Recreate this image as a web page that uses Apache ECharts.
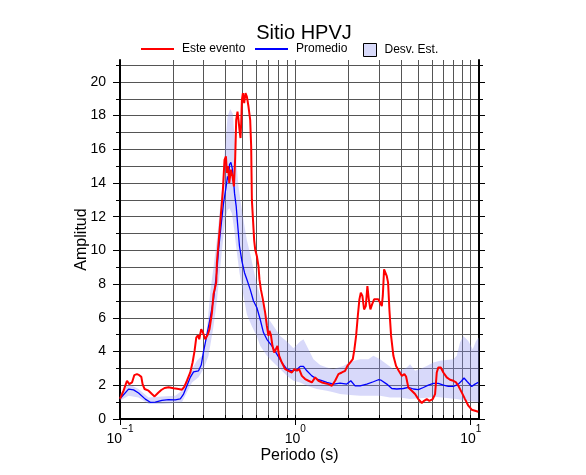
<!DOCTYPE html>
<html><head><meta charset="utf-8">
<script src="https://cdn.jsdelivr.net/npm/echarts@6/dist/echarts.min.js"></script>
<style>html,body{margin:0;padding:0;background:#fff}#c{width:586px;height:475px}</style>
</head><body><div id="c"></div>
<script>
// ---- data ----
const titleText = 'Sitio HPVJ';
const xTickVals = [0.1,0.2,0.3,0.4,0.5,0.6,0.7,0.8,0.9,1,2,3,4,5,6,7,8,9,10];
const xMajorVals = [0.1, 1, 10];
const yTickVals = [0,1,2,3,4,5,6,7,8,9,10,11,12,13,14,15,16,17,18,19,20,21];
const yMajorVals = [0,2,4,6,8,10,12,14,16,18,20];

const redT = [0.1,0.1048,0.1096,0.113,0.1171,0.1206,0.125,0.1288,0.1323,0.1345,0.1381,0.1455,0.1521,0.1575,0.1646,0.1719,0.1795,0.1892,0.202,0.2158,0.2256,0.2325,0.2409,0.2516,0.2593,0.2662,0.2722,0.2782,0.2831,0.2905,0.2971,0.3062,0.3172,0.3239,0.3343,0.3414,0.3538,0.357,0.3728,0.3862,0.3945,0.4018,0.4071,0.4141,0.4196,0.429,0.4381,0.4462,0.4539,0.4599,0.4678,0.474,0.4802,0.4866,0.4911,0.4957,0.5022,0.5108,0.5196,0.5291,0.5404,0.5526,0.5598,0.565,0.5823,0.59,0.6034,0.6161,0.6242,0.6358,0.6527,0.6727,0.6879,0.7025,0.7118,0.725,0.7404,0.7571,0.7741,0.7907,0.8085,0.8377,0.8747,0.9134,0.9552,0.9883,1.0198,1.0512,1.0889,1.1371,1.1875,1.2417,1.2966,1.354,1.4159,1.5438,1.6144,1.6858,1.7604,1.8408,1.9222,1.9811,2.0525,2.1262,2.1717,2.2203,2.2705,2.3185,2.3616,2.4116,2.466,2.5217,2.5752,2.6231,2.6788,2.7393,2.8119,2.8867,2.9751,3.0423,3.111,3.1522,3.2063,3.2614,3.3221,3.3792,3.4373,3.515,3.6226,3.7534,3.8881,4.0445,4.0979,4.1856,4.2792,4.4102,4.6117,4.8158,5.029,5.2588,5.42,5.6156,5.8104,6.0756,6.2618,6.4033,6.5389,6.7485,6.9828,7.2999,7.6243,7.9615,8.2469,8.4993,8.8875,9.2808,9.6916,10.13,10.58,11.05];
const redV = [1.2,1.68,2.27,2.07,2.17,2.6,2.66,2.6,2.5,2.07,1.78,1.68,1.48,1.34,1.54,1.72,1.84,1.88,1.82,1.78,1.74,1.91,2.27,2.76,3.35,4.04,4.83,4.97,4.73,5.33,5.13,4.73,5.03,5.33,6.3,7.4,8.1,9.3,11.64,13.6,15.38,15.58,14.6,15.0,14.0,14.79,14.4,13.8,15.5,17.75,18.24,17.75,17.16,16.67,17.55,18.93,19.33,18.74,19.33,19.13,18.54,17.75,16.17,13.0,10.6,10.06,9.66,9.07,8.28,7.69,7.1,6.31,5.52,4.93,5.23,5.0,4.34,3.94,4.14,4.34,3.75,3.35,2.96,2.86,2.76,2.96,2.86,2.96,2.56,2.37,2.27,2.17,2.47,2.27,2.17,2.07,1.97,2.27,2.66,2.76,2.86,3.15,3.35,3.55,4.14,4.93,6.11,7.1,7.5,7.3,6.5,6.7,7.89,7.1,6.5,6.8,7.1,7.0,7.1,6.9,6.7,7.3,8.88,8.98,8.48,8.09,6.5,4.93,3.75,3.15,2.86,2.56,2.47,2.66,2.52,1.87,1.68,1.48,1.18,0.95,1.08,1.18,1.08,1.18,1.48,2.76,3.06,3.06,2.76,2.47,2.33,2.27,2.17,1.97,1.58,1.18,0.79,0.55,0.49,0.43];

const blueT = [0.1,0.1119,0.1195,0.1276,0.1394,0.1488,0.1589,0.1735,0.1892,0.2066,0.2207,0.2304,0.2409,0.2516,0.2627,0.2805,0.2905,0.2995,0.3131,0.3269,0.3414,0.357,0.3646,0.3728,0.3893,0.4018,0.4103,0.4157,0.4212,0.429,0.4364,0.4439,0.4498,0.4599,0.4678,0.4802,0.4957,0.5129,0.5291,0.5526,0.5771,0.6034,0.6299,0.6578,0.6879,0.7346,0.7843,0.8377,0.8945,0.9552,1.0198,1.0651,1.1122,1.1629,1.2417,1.3259,1.4159,1.5118,1.6486,1.8001,1.9652,2.0711,2.1913,2.34,2.5551,2.7861,2.9751,3.0825,3.3221,3.5476,3.7873,4.131,4.4102,4.7094,5.029,5.3703,5.7346,6.1235,6.5389,6.9828,7.4559,7.9615,8.4993,8.8875,9.1598,9.565,10.13,10.58,11.05];
const blueV = [1.2,1.77,1.73,1.54,1.18,0.99,1.0,1.1,1.15,1.14,1.2,1.48,1.97,2.47,2.8,2.86,3.2,4.0,5.0,6.0,7.1,8.8,10.0,11.0,12.8,13.7,14.4,14.2,15.09,15.23,14.89,14.2,13.4,12.62,11.64,10.25,9.37,8.68,8.28,7.69,7.0,6.6,5.92,5.13,4.73,4.34,3.85,3.35,2.96,2.86,2.92,3.12,3.12,2.86,2.56,2.37,2.27,2.17,2.07,2.13,2.07,2.27,1.97,1.97,2.07,2.21,2.33,2.3,2.07,1.81,1.78,1.81,1.87,1.78,1.74,1.87,2.01,2.11,2.11,2.01,1.93,1.93,2.07,2.27,2.43,2.21,1.93,2.07,2.17];

const bandUpT = [0.1,0.1119,0.1276,0.1455,0.1735,0.2066,0.2256,0.2409,0.2573,0.2746,0.2932,0.3062,0.3164,0.3269,0.3414,0.357,0.3812,0.3981,0.4103,0.4251,0.4404,0.448,0.4599,0.474,0.4892,0.5061,0.5291,0.5526,0.5771,0.6034,0.6299,0.6879,0.7502,0.8192,0.8945,0.9754,1.0651,1.1122,1.1875,1.268,1.3846,1.5118,1.6486,1.8797,2.0525,2.34,2.6093,2.7861,3.0423,3.3221,3.6226,3.956,4.3188,4.5098,4.8158,5.1426,5.6156,6.1235,6.6866,7.9615,8.323,8.6911,9.0758,9.6916,10.27,10.72,11.15];
const bandUp = [1.48,2.07,1.78,1.28,1.34,1.38,1.68,2.27,2.96,3.45,3.75,4.6,5.8,7.5,9.0,10.65,13.6,16.2,17.95,18.4,18.1,16.96,15.4,13.8,12.8,11.8,10.6,9.8,8.9,8.0,7.3,6.1,5.52,4.93,4.6,4.2,4.6,4.73,4.14,3.55,3.2,3.06,2.96,3.15,3.4,3.55,3.55,3.75,3.55,3.25,2.96,2.86,3.06,3.25,2.86,2.96,3.15,3.35,3.45,3.55,3.75,4.54,4.93,4.63,4.14,4.63,4.83];
const bandLoT = [0.1,0.1119,0.1276,0.1455,0.1735,0.2066,0.2256,0.2409,0.2573,0.2805,0.2995,0.3197,0.3414,0.357,0.3812,0.3981,0.4103,0.4212,0.4347,0.448,0.4642,0.4802,0.5022,0.5291,0.565,0.6034,0.6299,0.6879,0.7502,0.8192,0.8945,0.9754,1.0651,1.1629,1.3259,1.5118,1.6486,1.8001,2.0525,2.34,3.0423,3.4691,3.956,4.5098,6.4033,8.323,9.4904,11.15];
const bandLo = [1.08,1.38,1.28,0.89,0.89,0.95,1.0,1.58,2.17,2.47,2.96,3.75,5.5,7.0,10.0,11.8,12.4,12.5,12.2,11.24,9.86,8.68,7.5,6.2,5.5,4.9,4.34,3.75,3.35,2.96,2.56,2.27,2.17,1.97,1.78,1.68,1.58,1.48,1.42,1.38,1.38,1.28,1.28,1.18,1.3,1.18,1.08,0.99];

const xMin = 0.1, xMax = 11.15, yMin = 0, yMax = 21.3;

// ---- chart ----
const FONT = 'Liberation Sans';
const pairs = (a, b) => a.map((t, i) => [t, b[i]]);
const G = {left: 120, right: 107, top: 60, bottom: 56};
const sup = {'0.1': '−1', '1': '0', '10': '1'};

const chart = echarts.init(document.getElementById('c'), null, {renderer: 'canvas'});
const gridLine = {show: true, lineStyle: {color: '#555', width: 1}};
const blackLine = {show: true, lineStyle: {color: '#000', width: 2}};
const hiddenX = {type: 'log', logBase: 10, min: xMin, max: xMax, show: false};

chart.setOption({
  animation: false,
  backgroundColor: '#fff',
  textStyle: {fontFamily: FONT},
  title: {text: titleText, left: 299, textAlign: 'center', top: 18,
    textStyle: {fontFamily: FONT, fontSize: 20, fontWeight: 'normal', color: '#000'}},
  legend: [
    {left: 141, top: 43, icon: 'rect', itemWidth: 33, itemHeight: 2, padding: 0,
     textStyle: {fontFamily: FONT, fontSize: 12, color: '#000', padding: [0,0,0,3]},
     data: [{name: 'Este evento'}], selectedMode: false},
    {left: 255, top: 43, icon: 'rect', itemWidth: 33, itemHeight: 2, padding: 0,
     textStyle: {fontFamily: FONT, fontSize: 12, color: '#000', padding: [0,0,0,3]},
     data: [{name: 'Promedio'}], selectedMode: false},
    {left: 363, top: 43, icon: 'rect', itemWidth: 13, itemHeight: 13, padding: 0,
     textStyle: {fontFamily: FONT, fontSize: 12, color: '#000', padding: [0,0,0,3]},
     data: [{name: 'Desv. Est.', itemStyle: {color: '#d8dafa', borderColor: '#000', borderWidth: 1}}], selectedMode: false}
  ],
  grid: [
    Object.assign({show: false}, G),
    Object.assign({show: false}, G)
  ],
  xAxis: [
    {type: 'log', logBase: 10, gridIndex: 0, position: 'bottom', min: xMin, max: xMax,
     name: 'Periodo (s)', nameLocation: 'middle', nameGap: 29, nameMoveOverlap: false,
     nameTextStyle: {fontFamily: FONT, fontSize: 16, color: '#000'},
     axisLine: blackLine,
     axisTick: {show: true, inside: false, length: 6, customValues: xMajorVals, lineStyle: {color: '#000', width: 1}},
     axisLabel: {show: true, customValues: xMajorVals, margin: 5, color: '#000',
       formatter: v => {
         const k = String(Math.round(v * 10) / 10);
         return '{b|10}{s|' + (sup[k] || '') + '}';
       },
       rich: {b: {fontFamily: FONT, fontSize: 14, lineHeight: 22, verticalAlign: 'bottom', color: '#000'},
              s: {fontFamily: FONT, fontSize: 10, lineHeight: 8, verticalAlign: 'top', color: '#000'}}},
     splitLine: {show: false}},
    {type: 'log', logBase: 10, gridIndex: 0, position: 'top', min: xMin, max: xMax,
     axisLine: blackLine,
     axisTick: {show: true, inside: false, length: 4, customValues: xTickVals, lineStyle: {color: '#000', width: 1}},
     axisLabel: {show: false},
     splitLine: gridLine},
    Object.assign({gridIndex: 1}, hiddenX)
  ],
  yAxis: [
    {type: 'value', gridIndex: 0, position: 'left', min: yMin, max: yMax,
     name: 'Amplitud', nameLocation: 'middle', nameGap: 30, nameMoveOverlap: false,
     nameTextStyle: {fontFamily: FONT, fontSize: 16, color: '#000'},
     axisLine: blackLine,
     axisTick: {show: true, inside: false, length: 7, customValues: yMajorVals, lineStyle: {color: '#000', width: 1}},
     axisLabel: {show: true, customValues: yMajorVals, margin: 14, fontFamily: FONT, fontSize: 14, color: '#000'},
     splitLine: {show: false}},
    {type: 'value', gridIndex: 0, position: 'right', min: yMin, max: yMax,
     axisLine: blackLine,
     axisTick: {show: true, inside: false, length: 4, customValues: yTickVals, lineStyle: {color: '#000', width: 1}},
     axisLabel: {show: false},
     splitLine: gridLine},
    {type: 'value', gridIndex: 1, position: 'left', min: yMin, max: yMax,
     axisLine: {show: false},
     axisTick: {show: true, inside: false, length: 4, customValues: yTickVals, lineStyle: {color: '#000', width: 1}},
     axisLabel: {show: false}, splitLine: {show: false}},
    {type: 'value', gridIndex: 1, position: 'right', min: yMin, max: yMax,
     axisLine: {show: false},
     axisTick: {show: true, inside: false, length: 6, customValues: yMajorVals, lineStyle: {color: '#000', width: 1}},
     axisLabel: {show: false}, splitLine: {show: false}}
  ],
  series: [
    {name: 'Desv. Est.', type: 'custom', xAxisIndex: 0, yAxisIndex: 0, z: 1,
     itemStyle: {color: '#d8dafa'},
     data: [[bandUpT[0], bandUp[0]]],
     renderItem: function (params, api) {
       const pts = [];
       for (let i = 0; i < bandUpT.length; i++) pts.push(api.coord([bandUpT[i], bandUp[i]]));
       for (let i = bandLoT.length - 1; i >= 0; i--) pts.push(api.coord([bandLoT[i], bandLo[i]]));
       return {type: 'polygon', shape: {points: pts}, style: {fill: 'rgba(140,145,240,0.34)'}};
     }},
    {name: 'Promedio', type: 'line', xAxisIndex: 0, yAxisIndex: 0, z: 3,
     data: pairs(blueT, blueV), showSymbol: false, symbol: 'none',
     lineStyle: {color: '#0000ff', width: 1.3}, itemStyle: {color: '#0000ff'}},
    {name: 'Este evento', type: 'line', xAxisIndex: 0, yAxisIndex: 0, z: 4,
     data: pairs(redT, redV), showSymbol: false, symbol: 'none',
     lineStyle: {color: '#ff0000', width: 2}, itemStyle: {color: '#ff0000'}}
  ]
});
</script>
</body></html>
